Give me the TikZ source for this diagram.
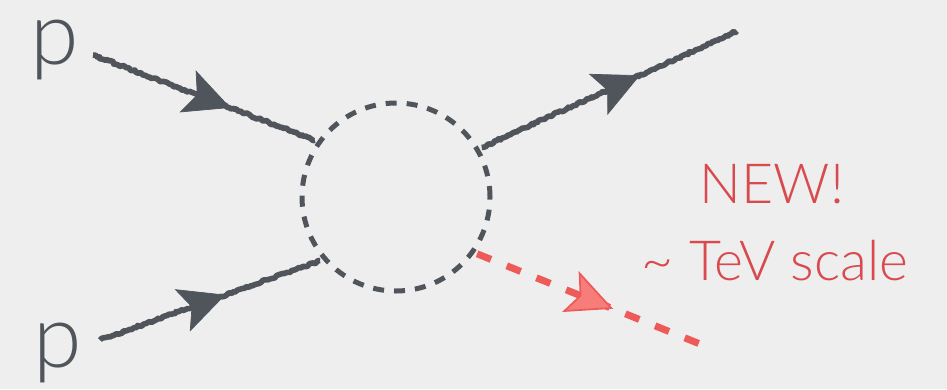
\documentclass[tikz,border=0pt]{standalone}
\usepackage{fontspec}
\setmainfont{Lato Light}
\usetikzlibrary{arrows.meta,decorations.pathmorphing,decorations.markings}
\definecolor{paper}{HTML}{EEEEEE}
\definecolor{lgray}{HTML}{50555C}
\definecolor{newred}{HTML}{D84A4D}
\definecolor{linered}{HTML}{EE5A57}
\definecolor{tippink}{HTML}{F77D7B}
\tikzset{
  every picture/.style={line join=round, >=Stealth},
  quark/.style={preaction={draw=lgray, line width=3.2pt, decorate,
      decoration={random steps, segment length=1.2pt, amplitude=0.6pt}}},
  midarrow/.style={postaction={decorate, decoration={markings,
      mark=at position #1 with {\arrow[lgray, line width=0.4pt]{Stealth[length=0.92cm, width=0.9cm, inset=0.2cm]}}}}},
  redarrow/.style={postaction={decorate, decoration={markings,
      mark=at position #1 with {\arrow[line width=1pt]{Stealth[length=0.92cm, width=0.88cm, inset=0.2cm, color=linered, fill=tippink]}}}}},
  blob/.style={circle, draw=lgray, line width=0.1cm, dash pattern=on 0.22cm off 0.2cm,
      minimum size=3.76cm, inner sep=0pt, outer sep=0.1cm},
  newline/.style={draw=linered, line width=0.14cm, dash pattern=on 0.3cm off 0.34cm},
  proton/.style={text=lgray, font=\fontsize{50}{60}\selectfont, inner sep=0pt},
  newtext/.style={text=newred, font=\fontsize{31.5}{38}\selectfont, inner sep=0pt},
}

\begin{document}
\begin{tikzpicture}
\fill[paper](0,0)rectangle(18.94,7.78);
\useasboundingbox(0,0)rectangle(18.94,7.78);
% labels
\node[proton,anchor=base west](ptop)at(0.6,6.5){p};
\node[proton,anchor=base west](pbot)at(0.66,0.44){p};
\node[newtext,anchor=base](newlbl)at(15.44,3.72){NEW!};
\node[newtext,anchor=base](tevlbl)at(15.5,2.18){\textasciitilde{} TeV scale};
% vertex
\node[blob](loop)at(7.92,3.84){};
\coordinate(in1)at(1.86,6.68);
\coordinate(in2)at(2.00,0.98);
\coordinate(out1)at(14.74,7.16);
\coordinate(out2)at(14.00,0.90);
% legs
\path[quark,midarrow=0.62](in1)--(loop.145);
\path[quark,midarrow=0.57](in2)--(loop.220);
\path[quark,midarrow=0.62](loop.30)--(out1);
\path[newline,redarrow=0.61](loop.325)--(out2);
\end{tikzpicture}
\end{document}
